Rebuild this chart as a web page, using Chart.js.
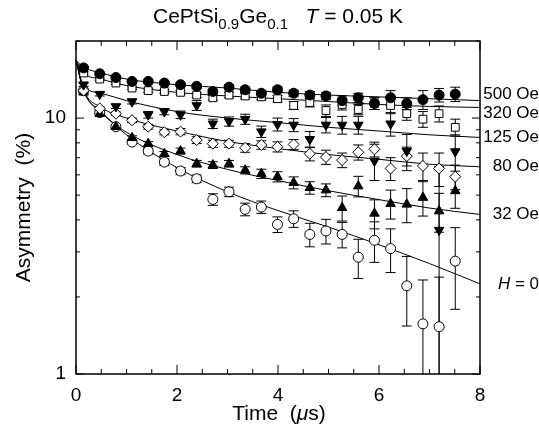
<!DOCTYPE html>
<html>
<head>
<meta charset="utf-8">
<script src="https://cdn.jsdelivr.net/npm/chart.js@4.4.0/dist/chart.umd.min.js"></script>
<style>
  body { margin: 0; background: #fff; }
  #wrap { width: 539px; height: 437px; }
</style>
</head>
<body>
<div id="wrap"><canvas id="muonChart"></canvas></div>
<script>
// time bins (µs), same for every field
const times = [0.15, 0.47, 0.79, 1.11, 1.43, 1.75, 2.07, 2.39, 2.71, 3.03, 3.35, 3.67,
               3.99, 4.31, 4.63, 4.95, 5.27, 5.59, 5.91, 6.23, 6.55, 6.87, 7.19, 7.51];

// asymmetry (%) and error, per applied field
const h500 = [15.7, 14.9, 14.4, 13.9, 13.9, 13.7, 13.5, 13.3, 12.7, 13.2, 12.9, 12.5, 12.9, 12.5, 12.3, 12.2, 11.7, 12.0, 11.4, 12.0, 11.4, 11.8, 12.3, 12.4];
const e500 = [0.15, 0.15, 0.15, 0.15, 0.2, 0.2, 0.2, 0.25, 0.25, 0.3, 0.3, 0.3, 0.35, 0.35, 0.4, 0.4, 0.5, 0.5, 0.6, 0.8, 0.6, 1.0, 0.75, 0.8];
const h320 = [15.0, 14.2, 13.7, 13.1, 12.8, 12.7, 12.6, 12.3, 12.0, 12.3, 12.2, 12.1, 11.9, 11.2, 11.5, 10.7, 11.3, 10.8, 11.4, 11.2, 10.4, 9.9, 10.4, 9.2];
const e320 = [0.15, 0.15, 0.15, 0.15, 0.2, 0.2, 0.2, 0.25, 0.25, 0.3, 0.3, 0.3, 0.35, 0.4, 0.45, 0.55, 0.55, 0.5, 0.6, 0.8, 0.6, 0.7, 0.75, 0.7];
const h125 = [13.5, 12.4, 11.1, 11.6, 10.3, 10.6, 10.3, 11.2, 9.5, 9.7, 9.9, 8.85, 9.45, 9.4, 8.26, 9.4, 9.4, 9.4, 6.8, 9.5, 7.43, null, 3.65, 7.4];
const e125 = [0.2, 0.2, 0.2, 0.25, 0.3, 0.3, 0.35, 0.5, 0.4, 0.4, 0.45, 0.45, 0.55, 0.55, 0.6, 0.65, 0.75, 0.75, 1.1, 1.0, 1.2, 0, 2.8, 1.2];
const h80 = [12.8, 10.9, 10.4, 9.8, 9.25, 8.8, 8.85, 8.2, 7.94, 7.94, 7.65, 7.85, 7.72, 7.89, 7.25, 7.04, 6.85, 7.35, 7.55, 6.35, 7.1, 6.5, 6.35, 5.9];
const e80 = [0.15, 0.15, 0.15, 0.2, 0.2, 0.2, 0.25, 0.25, 0.25, 0.25, 0.3, 0.3, 0.35, 0.35, 0.45, 0.45, 0.45, 0.5, 0.5, 0.65, 0.6, 0.8, 0.95, 0.65];
const h32 = [12.6, 10.4, 9.25, 8.37, 7.94, 7.25, 7.43, 6.63, 6.55, 6.63, 6.25, 6.06, 5.9, 5.59, 5.34, 5.23, 4.46, 5.42, 4.24, 4.63, 4.6, 4.89, 4.33, 5.19];
const e32 = [0.12, 0.12, 0.12, 0.15, 0.15, 0.15, 0.2, 0.2, 0.2, 0.2, 0.2, 0.25, 0.27, 0.3, 0.3, 0.3, 0.5, 0.5, 0.55, 0.6, 0.7, 0.75, 0.75, 0.75];
const h0 = [12.8, 10.5, 9.25, 8.06, 7.43, 6.73, 6.21, 5.79, 4.81, 5.15, 4.4, 4.49, 3.84, 4.04, 3.51, 3.62, 3.51, 2.86, 3.33, 3.09, 2.21, 1.57, 1.53, 2.76];
const e0 = [0.15, 0.15, 0.15, 0.15, 0.2, 0.2, 0.2, 0.2, 0.25, 0.22, 0.25, 0.25, 0.27, 0.3, 0.37, 0.4, 0.4, 0.5, 0.6, 0.6, 0.67, 0.76, 0.86, 0.97];

// fit curves
const fitTimes = [0, 0.15, 0.5, 1, 2, 3, 4, 5, 6, 7, 8];
const fit500 = [16.8, 15.8, 15.0, 14.2, 13.5, 13.1, 12.6, 12.3, 12.1, 11.9, 11.7];
const fit320 = [16.8, 15.0, 14.2, 13.4, 12.6, 12.2, 11.9, 11.6, 11.3, 11.1, 11.0];
const fit125 = [16.8, 13.4, 12.5, 11.7, 10.6, 10.0, 9.6, 9.2, 8.9, 8.6, 8.4];
const fit80 = [16.8, 12.9, 11.0, 10.0, 8.9, 8.1, 7.6, 7.2, 6.9, 6.6, 6.45];
const fit32 = [16.8, 12.8, 10.5, 8.8, 7.2, 6.3, 5.7, 5.2, 4.8, 4.45, 4.2];
const fit0 = [16.8, 12.8, 10.6, 8.6, 6.4, 5.15, 4.35, 3.75, 3.2, 2.7, 2.25];

const fieldLabels = ['500 Oe', '320 Oe', '125 Oe', '80 Oe', '32 Oe', 'H = 0'];
const labelLevels = [12.4, 10.4, 8.4, 6.45, 4.2, 2.25];

const xMajor = [0, 2, 4, 6, 8];
const xMinor = [0.5, 1, 1.5, 2.5, 3, 3.5, 4.5, 5, 5.5, 6.5, 7, 7.5];
const yMajor = [1, 10];
const yMinor = [2, 3, 4, 5, 6, 7, 8, 9, 20];

const FONT = "'Liberation Sans', Arial, sans-serif";

const pts = (xs, ys) => xs.map((t, i) => ({ x: t, y: ys[i] }));

function markers(ys, errs, style, radius, fill, rotation) {
    return {
        data: pts(times, ys),
        errors: errs,
        showLine: false,
        pointStyle: style,
        pointRadius: radius,
        pointRotation: rotation || 0,
        pointBackgroundColor: fill,
        pointBorderColor: '#000',
        pointBorderWidth: 1,
        order: 1
    };
}

function fitLine(ys) {
    return {
        data: pts(fitTimes, ys),
        showLine: true,
        pointRadius: 0,
        borderColor: '#000',
        borderWidth: 1,
        cubicInterpolationMode: 'monotone',
        order: 2
    };
}

// vertical error bars with caps
const errorBars = {
    id: 'errorBars',
    beforeDatasetsDraw(chart) {
        const { ctx, chartArea: a, scales: { x, y } } = chart;
        ctx.save();
        ctx.beginPath();
        ctx.rect(a.left, a.top, a.right - a.left, a.bottom - a.top);
        ctx.clip();
        ctx.strokeStyle = '#000';
        ctx.lineWidth = 1;
        chart.data.datasets.forEach(ds => {
            if (!ds.errors) return;
            ds.data.forEach((p, i) => {
                const err = ds.errors[i];
                if (p.y == null || !err) return;
                const px = x.getPixelForValue(p.x);
                const top = y.getPixelForValue(p.y + err);
                const lo = p.y - err;
                const bot = lo > 0 ? y.getPixelForValue(lo) : a.bottom + 20;
                ctx.beginPath();
                ctx.moveTo(px, top); ctx.lineTo(px, bot);
                ctx.moveTo(px - 5, top); ctx.lineTo(px + 5, top);
                ctx.moveTo(px - 5, bot); ctx.lineTo(px + 5, bot);
                ctx.stroke();
            });
        });
        ctx.restore();
    }
};

// box, inward ticks, title, x label and field labels
const decorations = {
    id: 'decorations',
    afterDraw(chart) {
        const { ctx, chartArea: a, scales: { x, y } } = chart;
        ctx.save();
        ctx.strokeStyle = '#000';
        ctx.lineWidth = 1.5;
        ctx.strokeRect(a.left, a.top, a.right - a.left, a.bottom - a.top);
        ctx.lineWidth = 1;
        ctx.beginPath();
        const xt = (v, len) => {
            const px = x.getPixelForValue(v);
            ctx.moveTo(px, a.bottom); ctx.lineTo(px, a.bottom - len);
            ctx.moveTo(px, a.top); ctx.lineTo(px, a.top + len);
        };
        const yt = (v, len) => {
            const py = y.getPixelForValue(v);
            ctx.moveTo(a.left, py); ctx.lineTo(a.left + len, py);
            ctx.moveTo(a.right, py); ctx.lineTo(a.right - len, py);
        };
        xMajor.forEach(v => xt(v, 9));
        xMinor.forEach(v => xt(v, 5));
        yMajor.forEach(v => yt(v, 8));
        yMinor.forEach(v => yt(v, 4));
        ctx.stroke();

        ctx.fillStyle = '#000';
        ctx.textBaseline = 'alphabetic';

        // title with subscripts
        const big = '21px ' + FONT, small = '15px ' + FONT, ital = 'italic 21px ' + FONT;
        const parts = [
            ['CePtSi', big, 0], ['0.9', small, 6], ['Ge', big, 0], ['0.1', small, 6],
            ['   ', big, 0], ['T', ital, 0], [' = 0.05 K', big, 0]
        ];
        let w = 0;
        parts.forEach(p => { ctx.font = p[1]; w += ctx.measureText(p[0]).width; });
        let cx = (a.left + a.right) / 2 - w / 2;
        parts.forEach(p => {
            ctx.font = p[1];
            ctx.fillText(p[0], cx, 23 + p[2]);
            cx += ctx.measureText(p[0]).width;
        });

        // x axis title
        const xbig = '21px ' + FONT, xital = 'italic 21px ' + FONT;
        const xparts = [['Time  (', xbig], ['\u03bc', xital], ['s)', xbig]];
        w = 0;
        xparts.forEach(p => { ctx.font = p[1]; w += ctx.measureText(p[0]).width; });
        cx = 279 - w / 2;
        xparts.forEach(p => {
            ctx.font = p[1];
            ctx.fillText(p[0], cx, 420);
            cx += ctx.measureText(p[0]).width;
        });

        // field labels on the right
        ctx.textBaseline = 'middle';
        ctx.textAlign = 'right';
        fieldLabels.forEach((txt, i) => {
            const py = y.getPixelForValue(labelLevels[i]);
            if (txt.startsWith('H')) {
                ctx.font = '17px ' + FONT;
                const rest = ' = 0';
                const rw = ctx.measureText(rest).width;
                ctx.fillText(rest, 539, py);
                ctx.font = 'italic 17px ' + FONT;
                ctx.fillText('H', 539 - rw, py);
            } else {
                ctx.font = '17px ' + FONT;
                ctx.fillText(txt, 539, py);
            }
        });
        ctx.restore();
    }
};

new Chart(document.getElementById('muonChart'), {
    type: 'scatter',
    data: {
        datasets: [
            fitLine(fit500), fitLine(fit320), fitLine(fit125),
            fitLine(fit80), fitLine(fit32), fitLine(fit0),
            markers(h500, e500, 'circle', 5, '#000'),
            markers(h320, e320, 'rect', 5.5, '#fff'),
            markers(h125, e125, 'triangle', 5.5, '#000', 180),
            markers(h80, e80, 'rectRot', 5.5, '#fff'),
            markers(h32, e32, 'triangle', 5.5, '#000'),
            markers(h0, e0, 'circle', 5, '#fff')
        ]
    },
    options: {
        responsive: true,
        maintainAspectRatio: false,
        animation: false,
        clip: false,
        layout: { padding: { top: 41, right: 59, left: 0, bottom: 0 } },
        plugins: {
            legend: { display: false },
            tooltip: { enabled: false }
        },
        scales: {
            x: {
                type: 'linear',
                min: 0,
                max: 8,
                grid: { display: false, drawTicks: false },
                border: { display: false },
                ticks: {
                    stepSize: 2,
                    padding: 10,
                    color: '#000',
                    font: { family: FONT, size: 19 }
                },
                afterFit(scale) { scale.height = 63; }
            },
            y: {
                type: 'logarithmic',
                min: 1,
                max: 20,
                grid: { display: false, drawTicks: false },
                border: { display: false },
                afterBuildTicks(scale) {
                    scale.ticks = yMajor.map(v => ({ value: v }));
                },
                ticks: {
                    padding: 10,
                    color: '#000',
                    font: { family: FONT, size: 19 },
                    callback: v => String(v)
                },
                title: {
                    display: true,
                    text: 'Asymmetry  (%)',
                    color: '#000',
                    font: { family: FONT, size: 21 },
                    padding: { top: 12, bottom: 0 }
                },
                afterFit(scale) { scale.width = 76; }
            }
        }
    },
    plugins: [errorBars, decorations]
});
</script>
</body>
</html>
